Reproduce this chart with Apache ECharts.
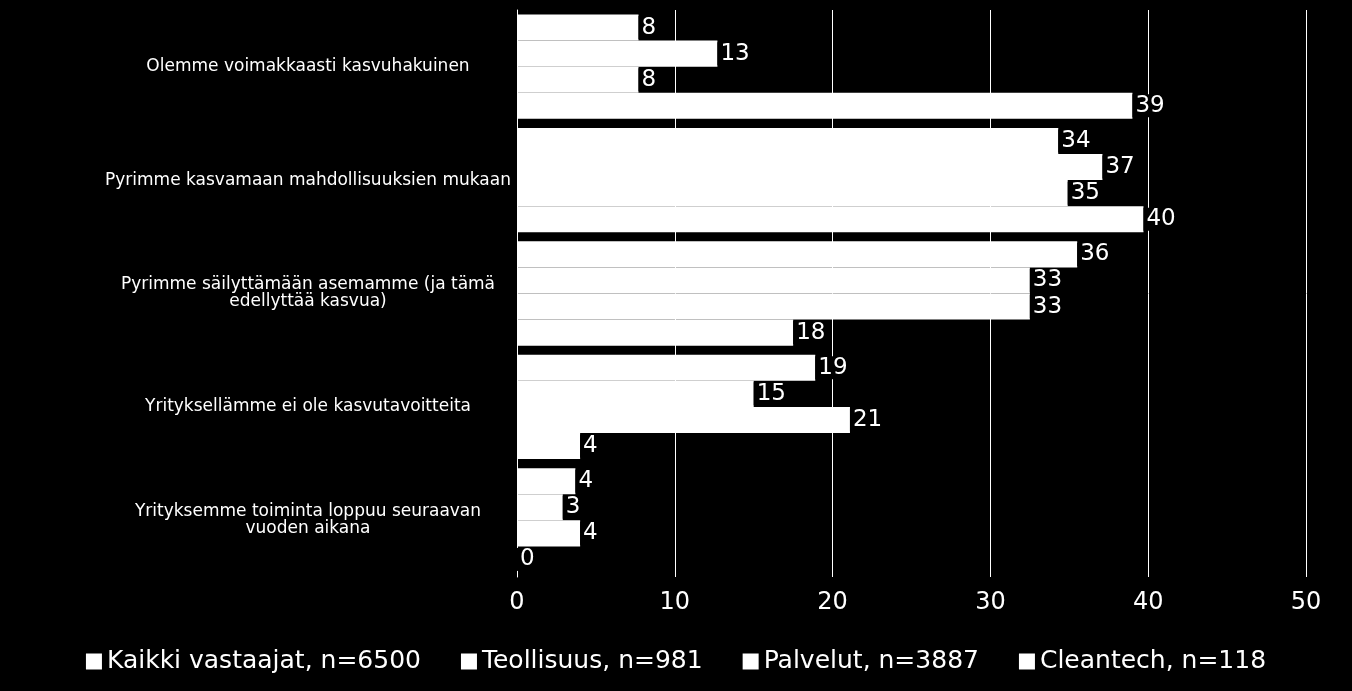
<!DOCTYPE html>
<html><head><meta charset="utf-8">
<script src="https://cdn.jsdelivr.net/npm/echarts@6/dist/echarts.min.js"></script>
<style>html,body{margin:0;background:#000}#c{width:1352px;height:691px}</style>
</head><body><div id="c"></div>
<script>
const categories = ["Olemme voimakkaasti kasvuhakuinen","Pyrimme kasvamaan mahdollisuuksien mukaan","Pyrimme säilyttämään asemamme (ja tämä\nedellyttää kasvua)","Yrityksellämme ei ole kasvutavoitteita","Yrityksemme toiminta loppuu seuraavan\nvuoden aikana"];
const seriesNames = ["Kaikki vastaajat, n=6500","Teollisuus, n=981","Palvelut, n=3887","Cleantech, n=118"];
const kaikki = [7.7,34.3,35.5,18.9,3.7];
const teollisuus = [12.7,37.1,32.5,15.0,2.9];
const palvelut = [7.7,34.9,32.5,21.1,4.0];
const cleantech = [39.0,39.7,17.5,4.0,0];
const values = [kaikki,teollisuus,palvelut,cleantech];
const chart = echarts.init(document.getElementById('c'));
chart.setOption({
  backgroundColor:'#000',
  textStyle:{fontFamily:'DejaVu Sans'},
  grid:{left:517,right:46,top:10,bottom:114},
  legend:{bottom:12,left:'center',itemWidth:16,itemHeight:16,itemGap:40,icon:'rect',
    textStyle:{color:'#fff',fontSize:25,fontFamily:'DejaVu Sans'},data:seriesNames},
  xAxis:{type:'value',min:0,max:50,interval:10,
    axisLabel:{color:'#fff',fontSize:24,margin:14},
    splitLine:{lineStyle:{color:'#fff',width:1}},axisLine:{show:false},axisTick:{show:false}},
  yAxis:{type:'category',inverse:true,data:categories,
    axisLabel:{color:'#fff',fontSize:17,margin:20,align:'center',padding:[0,0,0,0],
      formatter:v=>v},
    axisLine:{lineStyle:{color:'#fff'}},axisTick:{show:false}},
  series: seriesNames.map((n,i)=>({name:n,type:'bar',data:values[i],
    barGap:'0%',barCategoryGap:'8%',
    itemStyle:{color:'#fff'},
    label:{show:true,position:'right',distance:0,color:'#fff',fontSize:23,
      backgroundColor:'#000',padding:[0,3,0,3],
      formatter:p=>Math.round(p.value)}}))
});
// center y labels around x≈308
chart.setOption({yAxis:{axisLabel:{margin:209}}});
</script></body></html>
